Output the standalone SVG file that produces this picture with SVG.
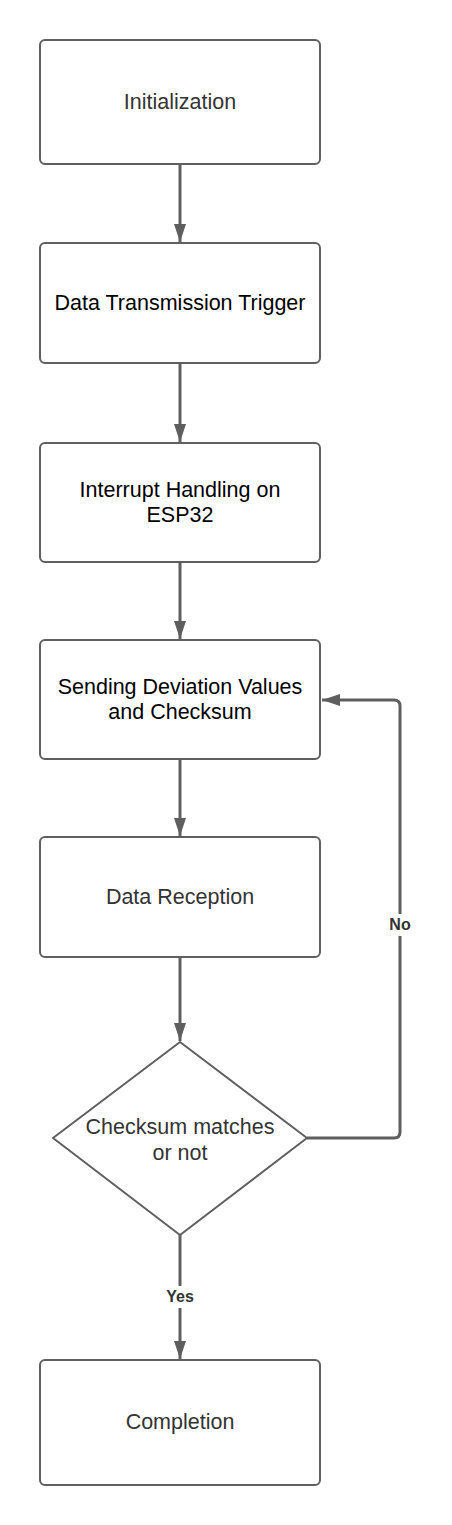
<svg xmlns="http://www.w3.org/2000/svg" width="452" height="1525" viewBox="0 0 452 1525">
<defs>
<marker id="arr" markerUnits="userSpaceOnUse" markerWidth="18" markerHeight="12" refX="18" refY="6" orient="auto">
<path d="M0,0 L18,6 L0,12 z" fill="#5e5e5e"/>
</marker>
<style>
.box{fill:#fff;stroke:#5f5f5f;stroke-width:2}
.t{font-family:"Liberation Sans",Arial,sans-serif;font-size:21.5px;text-anchor:middle;fill:#333}
.tb{fill:#000}
.c{fill:none;stroke:#5e5e5e;stroke-width:3}
.lbl{font-family:"Liberation Sans",Arial,sans-serif;font-size:16px;font-weight:bold;text-anchor:middle;fill:#333}
</style>
</defs>
<rect width="452" height="1525" fill="#fff"/>
<g id="connectors">
<line class="c" x1="180" y1="165" x2="180" y2="242" marker-end="url(#arr)"/>
<line class="c" x1="180" y1="364" x2="180" y2="442" marker-end="url(#arr)"/>
<line class="c" x1="180" y1="563" x2="180" y2="639" marker-end="url(#arr)"/>
<line class="c" x1="180" y1="760" x2="180" y2="836" marker-end="url(#arr)"/>
<line class="c" x1="180" y1="958" x2="180" y2="1041" marker-end="url(#arr)"/>
<line class="c" x1="180" y1="1234" x2="180" y2="1359" marker-end="url(#arr)"/>
<path class="c" d="M307,1138 H394 Q400,1138 400,1132 V706 Q400,700 394,700 H322" marker-end="url(#arr)"/>
<rect x="385" y="914" width="30" height="22" fill="#fff"/>
<text class="lbl" x="400" y="930">No</text>
<rect x="162" y="1286" width="36" height="22" fill="#fff"/>
<text class="lbl" x="180" y="1302">Yes</text>
</g>
<g id="n1"><rect class="box" x="40" y="40" width="280" height="124" rx="5"/><text class="t" x="180" y="109">Initialization</text></g>
<g id="n2"><rect class="box" x="40" y="243" width="280" height="120" rx="5"/><text class="t tb" x="180" y="310">Data Transmission Trigger</text></g>
<g id="n3"><rect class="box" x="40" y="443" width="280" height="119" rx="5"/><text class="t tb" x="180" y="497">Interrupt Handling on</text><text class="t tb" x="180" y="522">ESP32</text></g>
<g id="n4"><rect class="box" x="40" y="640" width="280" height="119" rx="5"/><text class="t tb" x="180" y="694">Sending Deviation Values</text><text class="t tb" x="180" y="719">and Checksum</text></g>
<g id="n5"><rect class="box" x="40" y="837" width="280" height="120" rx="5"/><text class="t" x="180" y="904">Data Reception</text></g>
<g id="n6"><path class="box" stroke-linejoin="round" d="M180,1042 L307,1138 L180,1235 L53,1138 Z"/><text class="t" x="180" y="1134">Checksum matches</text><text class="t" x="180" y="1160">or not</text></g>
<g id="n7"><rect class="box" x="40" y="1360" width="280" height="125" rx="5"/><text class="t" x="180" y="1429">Completion</text></g>
</svg>
